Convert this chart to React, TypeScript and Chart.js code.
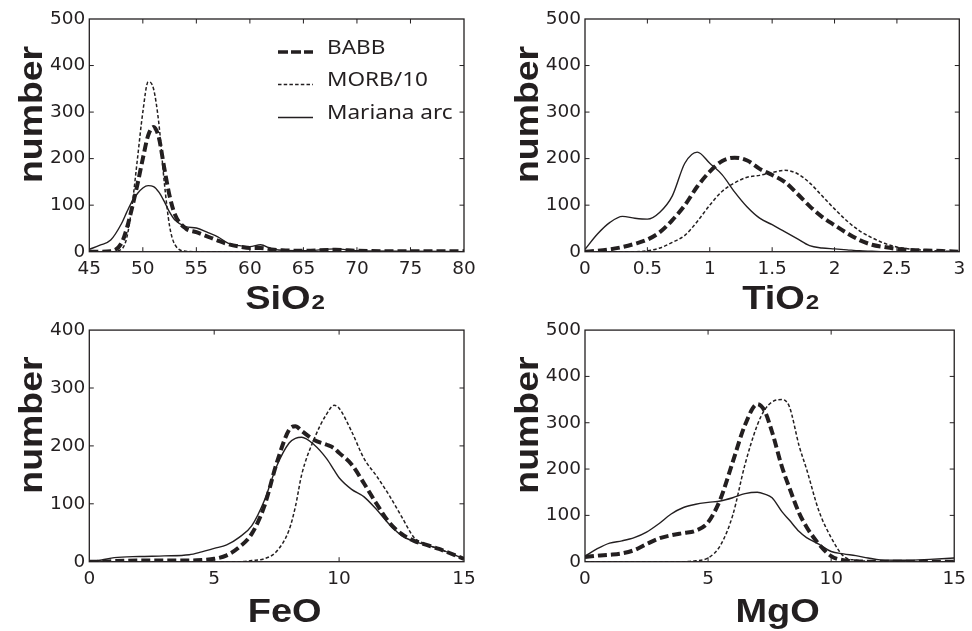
import React, { useEffect, useRef } from "react";
import { Chart, registerables } from "chart.js";

Chart.register(...registerables);

const INK = "#231f20";

// ---------- SiO2 ----------
const sio2X = [45, 46, 47, 48, 48.5, 49, 49.5, 50, 50.5, 51, 51.5, 52, 52.5, 53, 54, 55, 56, 57, 58, 59, 60, 61, 62, 63, 65, 68, 70, 75, 80];
const sio2Babb = [0, 0, 1, 18, 50, 95, 145, 200, 250, 268, 245, 180, 120, 80, 50, 42, 33, 24, 16, 11, 8, 8, 5, 3, 2, 4, 2, 1, 1];
const sio2Morb = [0, 0, 0, 5, 30, 100, 200, 300, 365, 350, 275, 150, 55, 15, 1, 0, 0, 0, 0, 0, 0, 0, 0, 0, 0, 0, 0, 0, 0];
const sio2Arc = [5, 14, 25, 60, 85, 108, 125, 137, 142, 140, 128, 108, 85, 68, 54, 51, 42, 32, 18, 13, 11, 15, 6, 3, 2, 6, 2, 1, 0];
const sio2Ticks = [45, 50, 55, 60, 65, 70, 75, 80];
const sio2TickLabels = ["45", "50", "55", "60", "65", "70", "75", "80"];

// ---------- TiO2 ----------
const tio2X = [0, 0.1, 0.2, 0.3, 0.4, 0.5, 0.6, 0.7, 0.8, 0.9, 1, 1.1, 1.2, 1.3, 1.4, 1.5, 1.6, 1.7, 1.8, 1.9, 2, 2.1, 2.2, 2.3, 2.4, 2.5, 2.6, 2.8, 3];
const tio2Babb = [0, 2, 5, 10, 17, 26, 42, 68, 100, 140, 172, 195, 202, 196, 178, 165, 150, 125, 98, 75, 57, 40, 25, 15, 10, 6, 4, 2, 0];
const tio2Morb = [0, 0, 0, 0, 0, 2, 8, 20, 35, 65, 100, 130, 148, 160, 164, 170, 175, 168, 148, 120, 92, 66, 45, 30, 18, 10, 6, 2, 0];
const tio2Arc = [5, 38, 63, 76, 72, 70, 85, 120, 190, 214, 190, 165, 128, 96, 72, 58, 43, 28, 13, 8, 6, 4, 2, 1, 0, 0, 0, 0, 0];
const tio2Ticks = [0, 0.5, 1, 1.5, 2, 2.5, 3];
const tio2TickLabels = ["0", "0.5", "1", "1.5", "2", "2.5", "3"];

// ---------- FeO ----------
const feoX = [0, 0.5, 1, 2, 3, 4, 4.5, 5, 5.5, 6, 6.5, 7, 7.5, 8, 8.25, 8.5, 9, 9.5, 9.8, 10, 10.5, 11, 11.5, 12, 12.5, 13, 13.5, 14, 15];
const feoBabb = [0, 0, 1, 2, 2, 2, 3, 5, 11, 25, 48, 95, 170, 228, 234, 226, 210, 202, 196, 188, 168, 135, 100, 68, 48, 36, 29, 22, 5];
const feoMorb = [0, 0, 0, 0, 0, 0, 0, 0, 0, 0, 2, 5, 18, 55, 95, 150, 212, 255, 270, 265, 225, 178, 148, 115, 78, 42, 30, 22, 5];
const feoArc = [0, 3, 7, 9, 10, 12, 17, 23, 29, 42, 62, 105, 165, 205, 213, 215, 202, 178, 158, 145, 125, 112, 90, 65, 45, 35, 29, 22, 5];
const feoTicks = [0, 5, 10, 15];
const feoTickLabels = ["0", "5", "10", "15"];

// ---------- MgO ----------
const mgoX = [0, 0.5, 1, 1.5, 2, 2.5, 3, 3.5, 4, 4.5, 5, 5.5, 6, 6.5, 7, 7.3, 7.6, 8, 8.3, 8.7, 9, 9.5, 10, 10.5, 11, 11.5, 12, 13, 14, 15];
const mgoBabb = [10, 13, 15, 18, 25, 38, 50, 57, 62, 67, 85, 135, 215, 295, 340, 325, 280, 205, 160, 105, 75, 38, 12, 3, 1, 0, 0, 0, 0, 0];
const mgoMorb = [0, 0, 0, 0, 0, 0, 0, 0, 0, 2, 8, 35, 100, 210, 295, 328, 345, 350, 335, 250, 200, 110, 52, 12, 3, 1, 0, 0, 0, 0];
const mgoArc = [12, 28, 40, 45, 52, 64, 82, 103, 117, 124, 128, 131, 138, 147, 150, 146, 138, 108, 90, 65, 52, 38, 22, 17, 13, 8, 4, 3, 5, 8];
const mgoTicks = [0, 5, 10, 15];
const mgoTickLabels = ["0", "5", "10", "15"];

// ---------- y axes ----------
const yTicks500 = [0, 100, 200, 300, 400, 500];
const yTickLabels500 = ["0", "100", "200", "300", "400", "500"];
const yTicks400 = [0, 100, 200, 300, 400];
const yTickLabels400 = ["0", "100", "200", "300", "400"];

const seriesNames = ["BABB", "MORB/10", "Mariana arc"];
const yTitle = "number";

type PanelDef = {
  id: string;
  titleMain: string;
  titleSub: string;
  xs: number[];
  babb: number[];
  morb: number[];
  arc: number[];
  xMin: number;
  xMax: number;
  xTicks: number[];
  xTickLabels: string[];
  yMax: number;
  yTicks: number[];
  yTickLabels: string[];
  legend: boolean;
  left: number;
  top: number;
  w: number;
  h: number;
  padTop: number;
  padRight: number;
  yAxisW: number;
  xAxisH: number;
  titleDy: number;
};

const panels: PanelDef[] = [
  {
    id: "sio2", titleMain: "SiO", titleSub: "2", xs: sio2X, babb: sio2Babb, morb: sio2Morb, arc: sio2Arc,
    xMin: 45, xMax: 80, xTicks: sio2Ticks, xTickLabels: sio2TickLabels,
    yMax: 500, yTicks: yTicks500, yTickLabels: yTickLabels500, legend: true,
    left: 0, top: 0, w: 486, h: 315, padTop: 19, padRight: 22, yAxisW: 89.3, xAxisH: 63.3, titleDy: 57,
  },
  {
    id: "tio2", titleMain: "TiO", titleSub: "2", xs: tio2X, babb: tio2Babb, morb: tio2Morb, arc: tio2Arc,
    xMin: 0, xMax: 3, xTicks: tio2Ticks, xTickLabels: tio2TickLabels,
    yMax: 500, yTicks: yTicks500, yTickLabels: yTickLabels500, legend: false,
    left: 486, top: 0, w: 486, h: 315, padTop: 19, padRight: 12.7, yAxisW: 99, xAxisH: 63.3, titleDy: 57,
  },
  {
    id: "feo", titleMain: "FeO", titleSub: "", xs: feoX, babb: feoBabb, morb: feoMorb, arc: feoArc,
    xMin: 0, xMax: 15, xTicks: feoTicks, xTickLabels: feoTickLabels,
    yMax: 400, yTicks: yTicks400, yTickLabels: yTickLabels400, legend: false,
    left: 0, top: 315, w: 486, h: 316, padTop: 14, padRight: 22, yAxisW: 89.3, xAxisH: 69.3, titleDy: 60.5,
  },
  {
    id: "mgo", titleMain: "MgO", titleSub: "", xs: mgoX, babb: mgoBabb, morb: mgoMorb, arc: mgoArc,
    xMin: 0, xMax: 15, xTicks: mgoTicks, xTickLabels: mgoTickLabels,
    yMax: 500, yTicks: yTicks500, yTickLabels: yTickLabels500, legend: false,
    left: 486, top: 315, w: 486, h: 316, padTop: 14, padRight: 12.7, yAxisW: 99, xAxisH: 69.3, titleDy: 60.5,
  },
];

const lineStyles = [
  { borderWidth: 4, borderDash: [9, 4] },
  { borderWidth: 1.5, borderDash: [3.5, 2.2] },
  { borderWidth: 1.4, borderDash: [] as number[] },
];

const TICK_FONT = { family: "'DejaVu Sans', 'Liberation Sans', sans-serif", size: 18.5 };
const TITLE_FAMILY = "'Liberation Sans', Arial, Helvetica, sans-serif";
const LEGEND_FAMILY = "'Noto Sans', 'Open Sans', sans-serif";

function stretchedText(ctx: CanvasRenderingContext2D, text: string, x: number, y: number, sx: number) {
  ctx.save();
  ctx.translate(x, y);
  ctx.scale(sx, 1);
  ctx.fillText(text, 0, 0);
  ctx.restore();
}

function makeDecorPlugin(p: PanelDef) {
  return {
    id: "decor_" + p.id,
    afterDraw(chart: any) {
      const ctx: CanvasRenderingContext2D = chart.ctx;
      const a = chart.chartArea;
      const xs = chart.scales.x;
      const ys = chart.scales.y;
      ctx.save();
      ctx.strokeStyle = INK;
      ctx.fillStyle = INK;
      // frame
      ctx.lineWidth = 1.3;
      ctx.setLineDash([]);
      ctx.strokeRect(a.left, a.top, a.right - a.left, a.bottom - a.top);
      // inward ticks on all four sides
      const tl = 4.5;
      ctx.lineWidth = 1;
      ctx.beginPath();
      for (const t of xs.ticks) {
        const px = xs.getPixelForValue(t.value);
        if (px <= a.left + 1 || px >= a.right - 1) continue;
        ctx.moveTo(px, a.bottom);
        ctx.lineTo(px, a.bottom - tl);
        ctx.moveTo(px, a.top);
        ctx.lineTo(px, a.top + tl);
      }
      for (const t of ys.ticks) {
        const py = ys.getPixelForValue(t.value);
        if (py <= a.top + 1 || py >= a.bottom - 1) continue;
        ctx.moveTo(a.left, py);
        ctx.lineTo(a.left + tl, py);
        ctx.moveTo(a.right, py);
        ctx.lineTo(a.right - tl, py);
      }
      ctx.stroke();

      // y title (rotated)
      const sx = 1.15;
      ctx.font = "bold 34px " + TITLE_FAMILY;
      ctx.textAlign = "center";
      ctx.textBaseline = "alphabetic";
      ctx.save();
      ctx.translate(a.left - 47, a.top + 0.41 * (a.bottom - a.top));
      ctx.rotate(-Math.PI / 2);
      ctx.scale(1.1, 1);
      ctx.fillText(yTitle, 0, 0);
      ctx.restore();

      // x title with subscript
      ctx.textAlign = "left";
      const mainFont = "bold 33px " + TITLE_FAMILY;
      const subFont = "bold 21px " + TITLE_FAMILY;
      ctx.font = mainFont;
      const w1 = ctx.measureText(p.titleMain).width * sx;
      ctx.font = subFont;
      const w2 = p.titleSub ? ctx.measureText(p.titleSub).width * sx : 0;
      const cx = (a.left + a.right) / 2 + 8;
      const by = a.bottom + p.titleDy;
      const x0 = cx - (w1 + w2) / 2;
      ctx.font = mainFont;
      stretchedText(ctx, p.titleMain, x0, by, sx);
      if (p.titleSub) {
        ctx.font = subFont;
        stretchedText(ctx, p.titleSub, x0 + w1 + 1, by, sx);
      }

      // legend
      if (p.legend) {
        const lx0 = a.right - 186;
        const lx1 = a.right - 151;
        const tx = a.right - 137;
        const rows = [a.top + 33, a.top + 65.5, a.top + 98.5];
        ctx.font = "20.5px " + LEGEND_FAMILY;
        ctx.textAlign = "left";
        for (let i = 0; i < 3; i++) {
          const st = lineStyles[i];
          ctx.lineWidth = i === 0 ? 3.6 : st.borderWidth;
          ctx.setLineDash(i === 0 ? [10, 3] : st.borderDash);
          ctx.beginPath();
          ctx.moveTo(lx0, rows[i]);
          ctx.lineTo(lx1, rows[i]);
          ctx.stroke();
          ctx.setLineDash([]);
          stretchedText(ctx, seriesNames[i], tx, rows[i] + 1.5, 1.1);
        }
      }
      ctx.restore();
    },
  };
}

function Panel({ p }: { p: PanelDef }) {
  const ref = useRef<HTMLCanvasElement | null>(null);
  useEffect(() => {
    if (!ref.current) return;
    const series = [p.babb, p.morb, p.arc];
    const chart = new Chart(ref.current, {
      type: "line",
      data: {
        datasets: series.map((ys, i) => ({
          label: seriesNames[i],
          data: p.xs.map((x, j) => ({ x, y: ys[j] })),
          borderColor: INK,
          backgroundColor: INK,
          borderWidth: lineStyles[i].borderWidth,
          borderDash: lineStyles[i].borderDash,
          pointRadius: 0,
          pointHoverRadius: 0,
          fill: false,
          cubicInterpolationMode: "monotone" as const,
          tension: 0.4,
        })),
      },
      options: {
        animation: false,
        responsive: false,
        maintainAspectRatio: false,
        devicePixelRatio: 1,
        events: [],
        layout: { padding: { top: p.padTop, right: p.padRight, left: 0, bottom: 0 } },
        plugins: {
          legend: { display: false },
          tooltip: { enabled: false },
          title: { display: false },
        },
        scales: {
          x: {
            type: "linear",
            min: p.xMin,
            max: p.xMax,
            afterBuildTicks: (s: any) => {
              s.ticks = p.xTicks.map((v) => ({ value: v }));
            },
            afterFit: (s: any) => {
              s.height = p.xAxisH;
            },
            grid: { display: false, drawTicks: false },
            border: { display: false },
            ticks: {
              autoSkip: false,
              maxRotation: 0,
              padding: 6,
              color: INK,
              font: TICK_FONT,
              callback: (_v: any, i: number) => p.xTickLabels[i],
            },
          },
          y: {
            type: "linear",
            min: 0,
            max: p.yMax,
            afterBuildTicks: (s: any) => {
              s.ticks = p.yTicks.map((v) => ({ value: v }));
            },
            afterFit: (s: any) => {
              s.width = p.yAxisW;
            },
            grid: { display: false, drawTicks: false },
            border: { display: false },
            ticks: {
              autoSkip: false,
              padding: 4,
              color: INK,
              font: TICK_FONT,
              callback: (_v: any, i: number) => p.yTickLabels[i],
            },
          },
        },
      },
      plugins: [makeDecorPlugin(p)],
    } as any);
    return () => chart.destroy();
  }, [p]);
  return (
    <div style={{ position: "absolute", left: p.left, top: p.top, width: p.w, height: p.h }}>
      <canvas ref={ref} width={p.w} height={p.h} style={{ display: "block", width: p.w, height: p.h }} />
    </div>
  );
}

export default function App() {
  return (
    <div style={{ position: "absolute", left: 0, top: 0, width: 972, height: 631, background: "#ffffff", overflow: "hidden" }}>
      {panels.map((p) => (
        <Panel key={p.id} p={p} />
      ))}
    </div>
  );
}
